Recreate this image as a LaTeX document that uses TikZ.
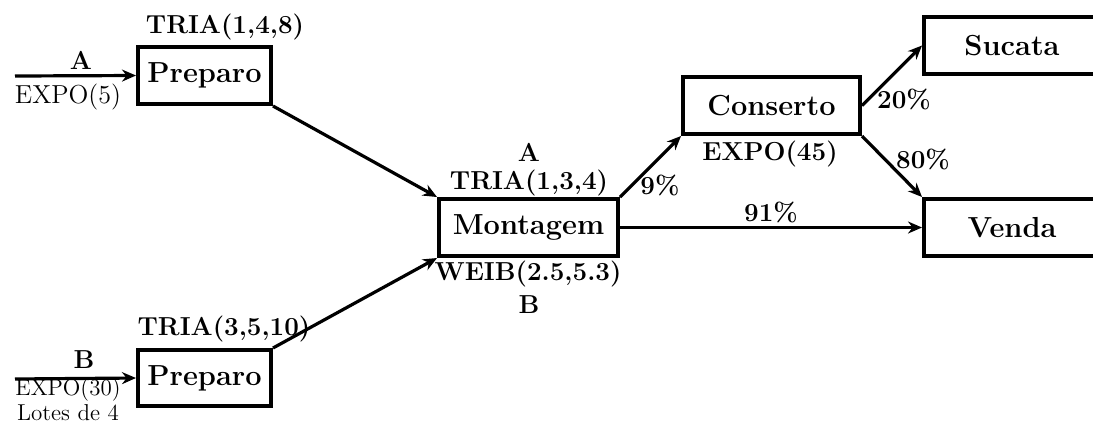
\documentclass[tikz,border=0pt]{standalone}
\usetikzlibrary{arrows.meta}
\begin{document}
\begin{tikzpicture}[x=0.5pt,y=-0.5pt,
  font=\fontsize{13}{15}\selectfont,
  proc/.style={draw,line width=2pt,minimum height=28.5pt,inner sep=0pt,font=\fontsize{14.5}{16}\selectfont\bfseries},
  flow/.style={line width=1.6pt,-{Stealth[length=7pt,width=6pt]}},
  lbl/.style={inner sep=0pt,font=\fontsize{13}{15}\selectfont\bfseries},
  rlbl/.style={inner sep=0pt,font=\fontsize{13}{11}\selectfont},
  slbl/.style={inner sep=0pt,font=\fontsize{11.5}{11}\selectfont}]
\useasboundingbox (0,0) rectangle (1093,425);
\node[proc,minimum width=66.5pt] (prepA) at (204.5,75.5) {Preparo};
\node[proc,minimum width=66.5pt,minimum height=28pt] (prepB) at (204.5,378) {Preparo};
\node[proc,minimum width=89.5pt] (mont) at (528.5,227.5) {Montagem};
\node[proc,minimum width=88.5pt] (cons) at (771.5,105.5) {Conserto};
\node[proc,minimum width=88pt] (suc) at (1012,45.5) {Sucata};
\node[proc,minimum width=88pt] (venda) at (1012,227.5) {Venda};
\coordinate (inA) at (15,76);
\coordinate (inB) at (15,379);
\draw[flow] (inA) -- (prepA.west);
\draw[flow] (inB) -- (prepB.west);
\draw[flow] (prepA.south east) -- (mont.north west);
\draw[flow] (prepB.north east) -- (mont.south west);
\draw[flow] (mont.north east) -- (cons.south west);
\draw[flow] (mont.east) -- (venda.west);
\draw[flow] (cons.east) -- (suc.west);
\draw[flow] (cons.south east) -- (venda.north west);
\node[lbl] (la) at (81,60) {A};
\node[rlbl] (ea) at (68,97) {EXPO(5)};
\node[lbl] (lb) at (84,360) {B};
\node[slbl] (eb) at (68,390) {EXPO(30)};
\node[slbl] (lotes) at (68,413) {Lotes de 4};
\node[lbl] (t1) at (225,27) {TRIA(1,4,8)};
\node[lbl] (t2) at (224,329) {TRIA(3,5,10)};
\node[lbl] (ma) at (529,152) {A};
\node[lbl] (t3) at (529,183) {TRIA(1,3,4)};
\node[lbl] (w) at (528,274) {WEIB(2.5,5.3)};
\node[lbl] (mb) at (529,305) {B};
\node[lbl] (p9) at (660,185) {9\%};
\node[lbl] (e45) at (770,154) {EXPO(45)};
\node[lbl] (p20) at (904,99) {20\%};
\node[lbl] (p80) at (923,159) {80\%};
\node[lbl] (p91) at (771,212) {91\%};
\end{tikzpicture}
\end{document}
